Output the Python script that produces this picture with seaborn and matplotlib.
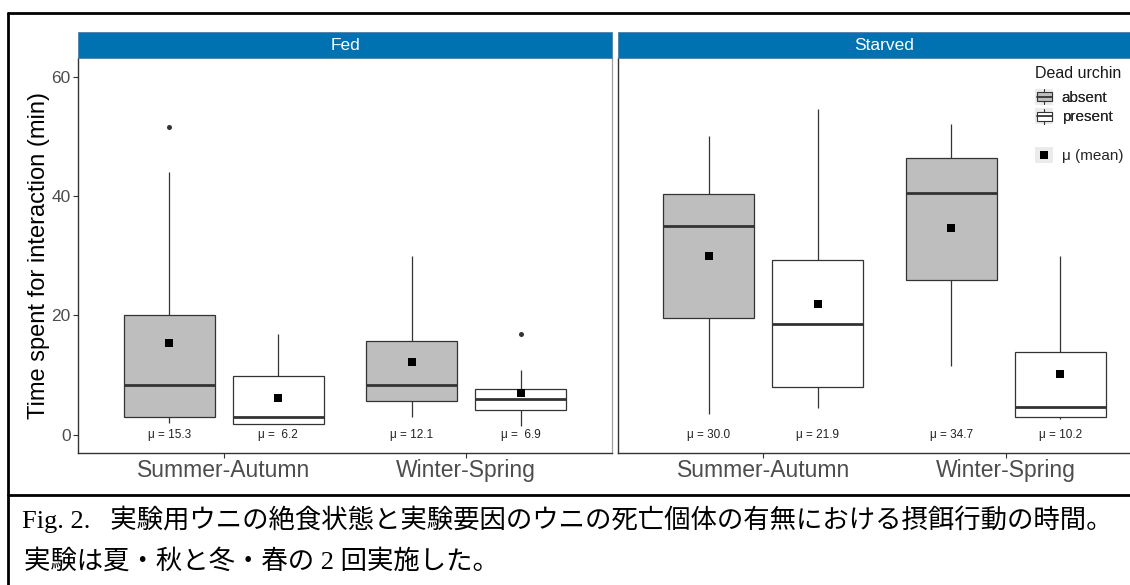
import numpy as np
import pandas as pd
import matplotlib
matplotlib.use("Agg")
import matplotlib.pyplot as plt
import seaborn as sns
from matplotlib.patches import Rectangle, Patch
from matplotlib.lines import Line2D
from matplotlib.legend_handler import HandlerBase

# ---------------- data ----------------
conditions = ["Fed", "Starved"]
periods = ["Summer-Autumn", "Winter-Spring"]
urchin_levels = ["absent", "present"]
# group order: SA-absent, SA-present, WS-absent, WS-present
group_period = ["Summer-Autumn", "Summer-Autumn", "Winter-Spring", "Winter-Spring"]
group_urchin = ["absent", "present", "absent", "present"]

fed_low = [1.9, 1.8, 3.0, 1.4]
fed_q1 = [2.9, 1.8, 5.6, 4.1]
fed_median = [8.4, 3.0, 8.4, 5.9]
fed_q3 = [20.0, 9.8, 15.7, 7.6]
fed_high = [44.0, 16.9, 30.0, 10.9]
fed_mean = [15.3, 6.2, 12.1, 6.9]
fed_outlier = [51.6, None, None, 16.9]

starved_low = [3.4, 4.5, 11.5, 2.7]
starved_q1 = [19.5, 7.9, 26.0, 2.95]
starved_median = [35.0, 18.5, 40.5, 4.6]
starved_q3 = [40.4, 29.2, 46.4, 13.9]
starved_high = [50.1, 54.6, 52.1, 30.0]
starved_mean = [30.0, 21.9, 34.7, 10.2]
starved_outlier = [None, None, None, None]

legend_title = "Dead urchin"
mean_label = "\u03bc (mean)"
y_label = "Time spent for interaction (min)"
y_ticks = [0, 20, 40, 60]
caption_1 = "Fig. 2.   実験用ウニの絶食状態と実験要因のウニの死亡個体の有無における摂餌行動の時間。"
caption_2 = "実験は夏・秋と冬・春の 2 回実施した。"

fill_colors = {"absent": "#BEBEBE", "present": "#FFFFFF"}
strip_color = "#0072B2"
line_color = "#333333"

# ---------------- style ----------------
sns.set_theme(style="white")
plt.rcParams["font.family"] = ["Liberation Sans", "DejaVu Sans"]

W, H = 1130, 585
fig = plt.figure(figsize=(W / 100, H / 100), dpi=100)


def px_axes(left, top, right, bottom):
    return fig.add_axes([left / W, 1 - bottom / H, (right - left) / W, (bottom - top) / H])


panel_top, panel_bottom = 58.3, 452.5
strip_top = 31.7
ax_fed = px_axes(78.3, panel_top, 611.7, panel_bottom)
ax_sta = px_axes(617.9, panel_top, 617.9 + 533.4, panel_bottom)

summaries = {
    "Fed": (fed_low, fed_q1, fed_median, fed_q3, fed_high, fed_mean, fed_outlier),
    "Starved": (starved_low, starved_q1, starved_median, starved_q3, starved_high,
                starved_mean, starved_outlier),
}

dodge = 0.45
offsets = np.linspace(-dodge / 2, dodge / 2, len(urchin_levels))

for cond, ax in zip(conditions, [ax_fed, ax_sta]):
    low, q1, med, q3, high, mean, outl = summaries[cond]
    rows = []
    for i in range(4):
        for v in (low[i], q1[i], med[i], q3[i], high[i]):
            rows.append({"period": group_period[i], "urchin": group_urchin[i], "value": v})
    box_df = pd.DataFrame(rows)
    sns.boxplot(data=box_df, x="period", y="value", hue="urchin", order=periods,
                hue_order=urchin_levels, palette=fill_colors, saturation=1,
                width=0.9, gap=0.167, whis=(0, 100), linecolor=line_color,
                linewidth=0.9, showfliers=False, legend=False,
                medianprops={"linewidth": 2.0, "color": line_color},
                capprops={"visible": False}, ax=ax)

    mean_df = pd.DataFrame({"period": group_period, "urchin": group_urchin, "mean": mean})
    sns.pointplot(data=mean_df, x="period", y="mean", hue="urchin", order=periods,
                  hue_order=urchin_levels, palette={"absent": "black", "present": "black"},
                  dodge=dodge, markers="s", linestyles="none", errorbar=None,
                  markersize=6.2, markeredgewidth=0, legend=False, ax=ax)

    out_rows = [{"period": group_period[i], "urchin": group_urchin[i], "value": outl[i]}
                for i in range(4) if outl[i] is not None]
    if out_rows:
        out_df = pd.DataFrame(out_rows)
        sns.pointplot(data=out_df, x="period", y="value", hue="urchin", order=periods,
                      hue_order=urchin_levels, palette={"absent": line_color, "present": line_color},
                      dodge=dodge, markers="o", linestyles="none", errorbar=None,
                      markersize=3.6, markeredgewidth=0, legend=False, ax=ax)

    # mean labels
    for i in range(4):
        xi = periods.index(group_period[i]) + offsets[urchin_levels.index(group_urchin[i])]
        ax.text(xi, 0, f"\u03bc = {mean[i]:4.1f}", ha="center", va="center",
                fontsize=8.5, color="#222222")

    ax.set_xlim(-0.6, 1.6)
    ax.set_ylim(-3, 63.1)
    ax.set_xlabel("")
    ax.set_ylabel("")
    ax.set_facecolor("white")
    ax.grid(False)
    ax.set_xticks(range(len(periods)))
    ax.set_xticklabels(periods)
    ax.tick_params(axis="x", bottom=True, length=3.5, width=0.8, color=line_color,
                   labelsize=16.5, labelcolor="#4D4D4D", pad=1.5)
    ax.tick_params(axis="y", left=True, length=3.5, width=0.8, color=line_color,
                   labelsize=12.5, labelcolor="#4D4D4D", pad=2)
    for s in ["left", "bottom"]:
        ax.spines[s].set_color(line_color)
        ax.spines[s].set_linewidth(1.0)
    ax.spines["right"].set_color("#A0A0A0")
    ax.spines["right"].set_linewidth(0.9)
    ax.spines["top"].set_visible(False)

    # facet strip
    strip_h = (panel_top - strip_top) / (panel_bottom - panel_top)
    ax.add_patch(Rectangle((0, 1), 1, strip_h, transform=ax.transAxes, clip_on=False,
                           facecolor=strip_color, edgecolor="#4D7FA8", linewidth=0.6, zorder=5))
    ax.text(0.5, 1 + strip_h / 2, cond, transform=ax.transAxes, ha="center", va="center",
            color="white", fontsize=12.5, zorder=6)

ax_fed.set_yticks(y_ticks)
ax_fed.set_yticklabels([str(t) for t in y_ticks])
ax_fed.set_ylabel(y_label, fontsize=17, color="black")
ax_fed.yaxis.set_label_coords(-0.053, 0.5)
ax_sta.set_yticks(y_ticks)
ax_sta.tick_params(axis="y", left=False, labelleft=False)


# ---------------- legend ----------------
class BoxGlyph(HandlerBase):
    def create_artists(self, legend, orig_handle, xdescent, ydescent, width, height,
                       fontsize, trans):
        x0, y0 = -xdescent, -ydescent
        bg = Rectangle((x0, y0), width, height, facecolor="#EBEBEB", edgecolor="none",
                       transform=trans)
        bw = width * 0.8
        bx = x0 + (width - bw) / 2
        by = y0 + height * 0.22
        bh = height * 0.56
        box = Rectangle((bx, by), bw, bh, facecolor=orig_handle.get_facecolor(),
                        edgecolor=line_color, linewidth=0.8, transform=trans)
        xc = x0 + width / 2
        w1 = Line2D([xc, xc], [y0 + height * 0.04, by], color=line_color, lw=0.8, transform=trans)
        w2 = Line2D([xc, xc], [by + bh, y0 + height * 0.96], color=line_color, lw=0.8,
                    transform=trans)
        md = Line2D([bx, bx + bw], [by + bh / 2] * 2, color=line_color, lw=1.3, transform=trans)
        return [bg, box, w1, w2, md]


class MeanGlyph(HandlerBase):
    def create_artists(self, legend, orig_handle, xdescent, ydescent, width, height,
                       fontsize, trans):
        x0, y0 = -xdescent, -ydescent
        bg = Rectangle((x0, y0), width, height, facecolor="#EBEBEB", edgecolor="none",
                       transform=trans)
        mk = Line2D([x0 + width / 2], [y0 + height / 2], marker="s", markersize=5.5,
                    color="black", markeredgewidth=0, linestyle="none", transform=trans)
        return [bg, mk]


leg_x = 1035
fig.text(leg_x / W, 1 - 74 / H, legend_title, ha="left", va="center", fontsize=11.5,
         color="#1A1A1A")
box_handles = [Patch(facecolor=fill_colors[u], edgecolor=line_color) for u in urchin_levels]
leg1 = fig.legend(box_handles, urchin_levels, loc="upper left",
                  bbox_to_anchor=(leg_x / W, 1 - 88.5 / H), frameon=False, fontsize=11,
                  handlelength=1.2, handleheight=1.25, handletextpad=0.55,
                  labelspacing=0.22, borderpad=0, borderaxespad=0,
                  handler_map={h: BoxGlyph() for h in box_handles})
mean_handle = Line2D([], [], marker="s", color="black", linestyle="none")
leg2 = fig.legend([mean_handle], [mean_label], loc="upper left",
                  bbox_to_anchor=(leg_x / W, 1 - 147 / H), frameon=False, fontsize=11,
                  handlelength=1.2, handleheight=1.25, handletextpad=0.55, borderpad=0,
                  borderaxespad=0, handler_map={mean_handle: MeanGlyph()})
fig.add_artist(leg1)

# ---------------- outer frame and caption ----------------
frame_kw = dict(transform=fig.transFigure, color="black", linewidth=2.0)
fig.add_artist(Line2D([7.5 / W, 1.0], [1 - 13.3 / H] * 2, **frame_kw))
fig.add_artist(Line2D([7.5 / W] * 2, [1 - 13.3 / H, 0.0], **frame_kw))
fig.add_artist(Line2D([7.5 / W, 1.0], [1 - 495 / H] * 2, **frame_kw))

cap_family = ["Liberation Serif", "Noto Sans CJK JP"]
fig.text(22 / W, 1 - 519 / H, caption_1, family=cap_family, fontsize=19, ha="left",
         va="center", color="black")
fig.text(24 / W, 1 - 561 / H, caption_2, family=cap_family, fontsize=19, ha="left",
         va="center", color="black")

fig.savefig("out.png", dpi=100, facecolor="white")
